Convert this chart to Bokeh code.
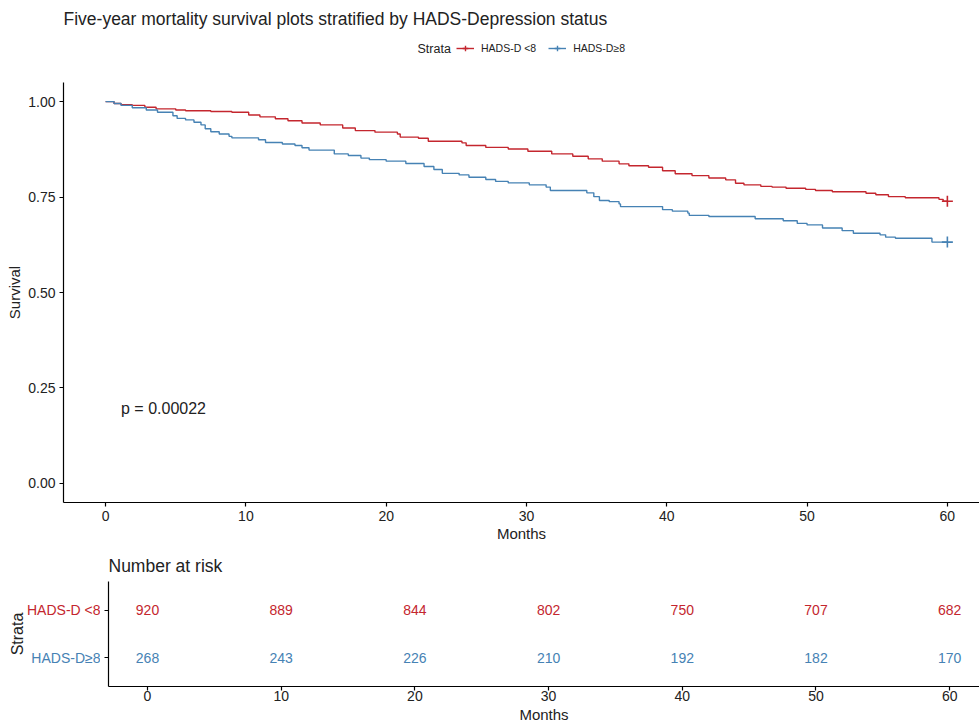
from bokeh.plotting import figure
from bokeh.layouts import row
from bokeh.models import (FixedTicker, Legend, LegendItem, Label, NumeralTickFormatter, Range1d)
from bokeh.embed import file_html
from bokeh.resources import INLINE
from bokeh.core.properties import value

# ---------------- data ----------------
title_text = "Five-year mortality survival plots stratified by HADS-Depression status"
legend_title = "Strata"
strata = ["HADS-D <8", "HADS-D\u22658"]

red_time = [0, 0.6, 1.1, 1.9, 2.8, 3.6, 5.0, 5.7, 7.5, 9.0, 10.2, 11.0, 12.1, 13.0, 14.0,
            15.3, 16.9, 17.8, 19.2, 20.8, 21.0, 22.3, 23.0, 25.4, 25.7, 27.1, 28.7, 30.1,
            31.8, 33.3, 34.4, 35.4, 36.6, 37.3, 38.7, 39.7, 40.6, 41.8, 43.0, 44.2, 44.9,
            45.5, 46.7, 47.5, 48.5, 49.9, 50.6, 51.8, 54.2, 54.9, 55.8, 57.0, 59.4, 59.7]
red_surv = [1.0, 0.995, 0.992, 0.990, 0.985, 0.981, 0.978, 0.976, 0.974, 0.972, 0.965, 0.960,
            0.955, 0.950, 0.944, 0.939, 0.931, 0.924, 0.920, 0.915, 0.907, 0.904, 0.896, 0.892,
            0.885, 0.880, 0.876, 0.870, 0.863, 0.857, 0.850, 0.844, 0.837, 0.832, 0.828, 0.819,
            0.811, 0.806, 0.800, 0.795, 0.786, 0.782, 0.778, 0.776, 0.773, 0.770, 0.767, 0.764,
            0.760, 0.756, 0.751, 0.748, 0.744, 0.739]

blue_time = [0, 0.6, 1.1, 1.9, 2.9, 3.7, 4.8, 5.1, 5.7, 6.3, 6.8, 7.1, 7.5, 8.1, 8.8, 9.0,
             10.9, 11.4, 12.6, 13.5, 14.0, 14.5, 16.3, 17.3, 18.2, 18.8, 20.0, 21.4, 22.7,
             23.4, 24.0, 25.2, 25.9, 27.1, 27.8, 28.7, 30.2, 31.4, 31.7, 34.3, 34.8, 35.2,
             35.9, 36.6, 36.7, 39.7, 40.4, 41.5, 41.6, 43.0, 46.3, 48.3, 49.3, 50.0, 51.1,
             52.5, 53.3, 55.2, 55.6, 56.3, 58.9]
blue_surv = [1.0, 0.995, 0.990, 0.984, 0.978, 0.972, 0.963, 0.956, 0.952, 0.946, 0.939, 0.929,
             0.921, 0.915, 0.909, 0.905, 0.900, 0.893, 0.889, 0.885, 0.879, 0.873, 0.863, 0.859,
             0.852, 0.848, 0.844, 0.838, 0.830, 0.822, 0.812, 0.808, 0.802, 0.796, 0.791, 0.787,
             0.782, 0.776, 0.767, 0.761, 0.751, 0.741, 0.738, 0.732, 0.725, 0.717, 0.713, 0.708,
             0.702, 0.699, 0.693, 0.688, 0.681, 0.677, 0.669, 0.662, 0.655, 0.651, 0.645, 0.642,
             0.632]

end_time = 60
month_ticks = [0, 10, 20, 30, 40, 50, 60]
surv_ticks = [0.0, 0.25, 0.5, 0.75, 1.0]
risk_low = [920, 889, 844, 802, 750, 707, 682]
risk_high = [268, 243, 226, 210, 192, 182, 170]
p_text = "p = 0.00022"
risk_title = "Number at risk"

# ---------------- style ----------------
RED = "#C4262E"
BLUE = "#4682B4"
FONT = "Liberation Sans"
TXT = "#222222"
W = 979
COMMON = dict(output_backend="svg", toolbar_location=None)


def style_axis(ax, label_standoff=4, title_standoff=2):
    ax.axis_line_color = "black"
    ax.axis_line_width = 1.2
    ax.major_tick_line_color = "black"
    ax.major_tick_line_width = 1.2
    ax.major_tick_in = 0
    ax.major_tick_out = 4
    ax.minor_tick_line_color = None
    ax.major_label_text_font = FONT
    ax.major_label_text_font_size = "14px"
    ax.major_label_text_color = TXT
    ax.major_label_standoff = label_standoff
    ax.axis_label_text_font = FONT
    ax.axis_label_text_font_size = "15px"
    ax.axis_label_text_font_style = "normal"
    ax.axis_label_text_color = TXT
    ax.axis_label_standoff = title_standoff


def clean(fig):
    fig.outline_line_color = None
    fig.xgrid.visible = False
    fig.ygrid.visible = False
    fig.background_fill_color = "white"
    fig.border_fill_color = "white"


# ---------------- header: title + legend ----------------
h = figure(width=W, height=82, x_range=Range1d(0, W), y_range=Range1d(82, 0),
           x_axis_location=None, y_axis_location=None,
           min_border_left=0, min_border_right=0, min_border_top=0, min_border_bottom=0,
           **COMMON)
clean(h)
h.text(x=[63], y=[18], text=[title_text], text_font=value(FONT), text_font_size="17.5px",
       text_color=TXT, text_align="left", text_baseline="middle")
h.text(x=[417], y=[48], text=[legend_title], text_font=value(FONT), text_font_size="12.5px",
       text_color=TXT, text_align="left", text_baseline="middle")
# legend keys: hidden copies of the series (drawn only as legend swatches)
lr_line = h.line(x=red_time, y=red_surv, line_color=RED, line_width=1.4, visible=False)
lr_cross = h.scatter(x=[end_time], y=[red_surv[-1]], marker="cross", size=9,
                     line_color=RED, line_width=1.4, visible=False)
lb_line = h.line(x=blue_time, y=blue_surv, line_color=BLUE, line_width=1.4, visible=False)
lb_cross = h.scatter(x=[end_time], y=[blue_surv[-1]], marker="cross", size=9,
                     line_color=BLUE, line_width=1.4, visible=False)
legend = Legend(items=[LegendItem(label=strata[0], renderers=[lr_line, lr_cross]),
                       LegendItem(label=strata[1], renderers=[lb_line, lb_cross])],
                orientation="horizontal", location=(456, 27))
legend.label_text_font = FONT
legend.label_text_font_size = "10.5px"
legend.label_text_color = TXT
legend.glyph_width = 18
legend.glyph_height = 14
legend.label_height = 14
legend.label_standoff = 7
legend.spacing = 12
legend.padding = 0
legend.margin = 0
legend.border_line_color = None
legend.background_fill_alpha = 0
legend.inactive_fill_alpha = 0
legend.click_policy = "none"
h.add_layout(legend)

# ---------------- main survival plot ----------------
p = figure(width=W, height=465, x_range=Range1d(-3, 62.29), y_range=Range1d(-0.05, 1.05),
           min_border_left=63, min_border_right=0, min_border_top=0, min_border_bottom=45,
           **COMMON)
clean(p)

p.step(x=red_time + [end_time], y=red_surv + [red_surv[-1]], mode="after",
       line_color=RED, line_width=1.4)
p.step(x=blue_time + [end_time], y=blue_surv + [blue_surv[-1]], mode="after",
       line_color=BLUE, line_width=1.4)
p.scatter([end_time], [red_surv[-1]], marker="cross", size=11, line_color=RED, line_width=1.6)
p.scatter([end_time], [blue_surv[-1]], marker="cross", size=11, line_color=BLUE, line_width=1.6)

p.xaxis.ticker = FixedTicker(ticks=month_ticks)
p.yaxis.ticker = FixedTicker(ticks=surv_ticks)
p.yaxis.formatter = NumeralTickFormatter(format="0.00")
p.xaxis.axis_label = "Months"
p.yaxis.axis_label = "Survival"
style_axis(p.xaxis[0], label_standoff=4, title_standoff=1)
style_axis(p.yaxis[0], label_standoff=4, title_standoff=2)

p.add_layout(Label(x=1.1, y=0.195, text=p_text, text_baseline="middle", text_align="left",
                   text_font=FONT, text_font_size="16px", text_color=TXT))

# ---------------- risk table: left labels ----------------
RH = 178
lab = figure(width=100, height=RH, x_range=Range1d(0, 100), y_range=Range1d(0.4, 2.6),
             x_axis_location=None, y_axis_location=None,
             min_border_left=0, min_border_right=0, min_border_top=34, min_border_bottom=38,
             **COMMON)
clean(lab)
lab.text(x=[100, 100], y=[2, 1], text=strata, text_color=[RED, BLUE], text_align="right",
         text_baseline="middle", text_font=value(FONT), text_font_size="14px")
lab.text(x=[17], y=[1.5], text=["Strata"], angle=1.5707963, text_align="center",
         text_baseline="middle", text_font=value(FONT), text_font_size="16px", text_color=TXT)

# ---------------- risk table ----------------
r = figure(width=W - 100, height=RH, x_range=Range1d(-2.917, 62.23), y_range=Range1d(0.4, 2.6),
           min_border_left=8, min_border_right=0, min_border_top=34, min_border_bottom=38,
           **COMMON)
clean(r)
r.title.text = risk_title
r.title.text_font = FONT
r.title.text_font_size = "17.5px"
r.title.text_font_style = "normal"
r.title.text_color = TXT
r.title.align = "left"
r.title.standoff = 12

r.text(x=month_ticks, y=[2] * len(risk_low), text=[str(v) for v in risk_low],
       text_color=RED, text_align="center", text_baseline="middle",
       text_font=value(FONT), text_font_size="14px")
r.text(x=month_ticks, y=[1] * len(risk_high), text=[str(v) for v in risk_high],
       text_color=BLUE, text_align="center", text_baseline="middle",
       text_font=value(FONT), text_font_size="14px")

r.xaxis.ticker = FixedTicker(ticks=month_ticks)
r.yaxis.ticker = FixedTicker(ticks=[1, 2])
r.yaxis.major_label_overrides = {1: "", 2: ""}
r.xaxis.axis_label = "Months"
style_axis(r.xaxis[0], label_standoff=0, title_standoff=2)
style_axis(r.yaxis[0], label_standoff=0, title_standoff=0)

risk_row = row(lab, r, spacing=0)

open("out.html", "w").write(file_html([h, p, risk_row], INLINE))
